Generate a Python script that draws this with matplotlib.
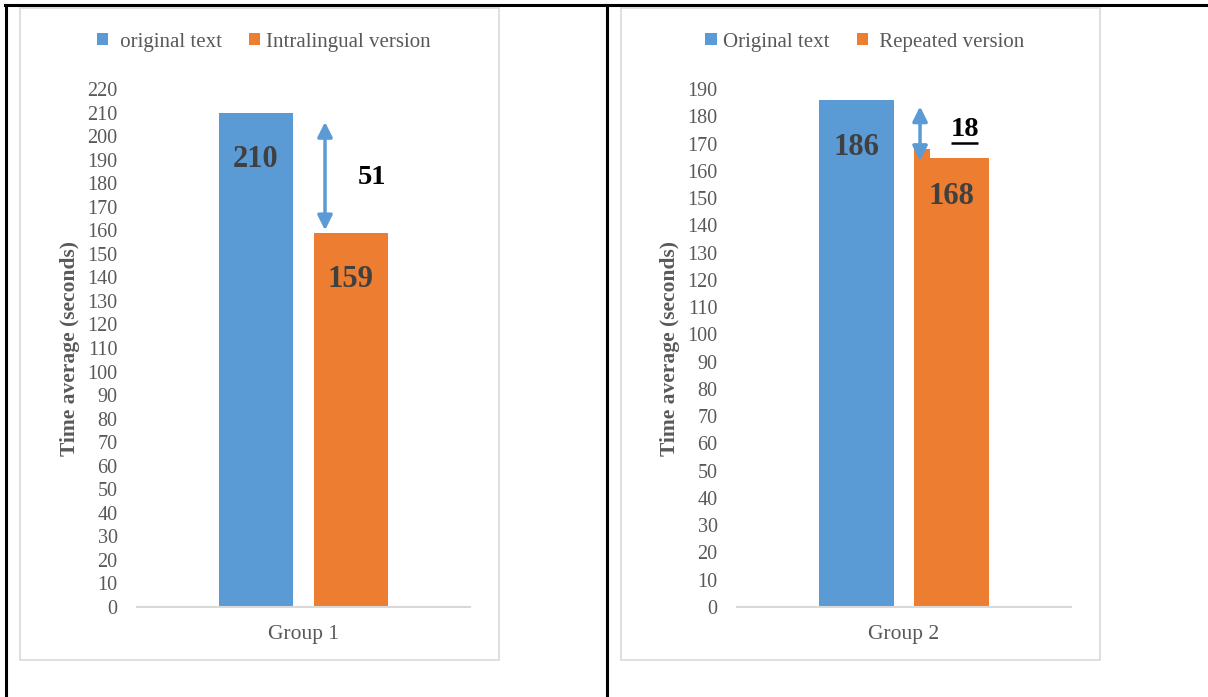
import matplotlib
matplotlib.use("Agg")
import matplotlib.pyplot as plt
from matplotlib.patches import Rectangle
from matplotlib.lines import Line2D

plt.rcParams['font.family'] = ['Liberation Serif', 'DejaVu Serif']

# ---- data ----
groups_1 = ["Group 1"]
series_1 = [" original text", "Intralingual version"]
values_1 = [210, 159]
diff_1 = 51

groups_2 = ["Group 2"]
series_2 = ["Original text", " Repeated version"]
values_2 = [186, 168]
diff_2 = 18

ymax_1, ymax_2 = 220, 190
ylabel = "Time average (seconds)"

BLUE = "#5B9BD5"
ORANGE = "#ED7D31"
GRAY = "#595959"
DARK = "#404040"
GRID = "#D9D9D9"

W, H = 1208, 697
fig = plt.figure(figsize=(W / 100, H / 100), dpi=100)


def px(x0, y0, x1, y1):
    """pixel box (top-left origin) -> figure fraction rect"""
    return [x0 / W, 1 - y1 / H, (x1 - x0) / W, (y1 - y0) / H]


# table frame lines
for xs, ys in [((5, W), (5, 5)), ((6, 6), (5, H)), ((607, 607), (5, H))]:
    fig.add_artist(Line2D([x / W for x in xs], [1 - y / H for y in ys],
                          color="black", lw=2.2, transform=fig.transFigure))

# chart area borders
for x0, x1 in [(20, 499), (621, 1100)]:
    fig.add_artist(Rectangle((x0 / W, 1 - 660 / H), (x1 - x0) / W, (660 - 8) / H,
                             transform=fig.transFigure, fill=False,
                             edgecolor=GRID, lw=1.2))

offset = 0.1426
bw = 0.225


def make_panel(rect, groups, series, values, ymax, legend_center, ylab_x):
    ax = fig.add_axes(rect)
    xs = [-offset, offset]
    colors = [BLUE, ORANGE]
    for x, v, c, s in zip(xs, values, colors, series):
        ax.bar(x, v, width=bw, color=c, label=s, zorder=2)
    ax.set_xlim(-0.5, 0.5)
    ax.set_ylim(0, ymax)
    ax.set_yticks(range(0, ymax + 1, 10))
    ax.set_xticks([0])
    ax.set_xticklabels(groups)
    ax.tick_params(axis="y", length=0, pad=14, labelsize=14.5, labelcolor=GRAY)
    ax.tick_params(axis="x", length=0, pad=13, labelsize=15.5, labelcolor=GRAY)
    for sp in ["top", "right", "left"]:
        ax.spines[sp].set_visible(False)
    ax.spines["bottom"].set_color(GRID)
    ax.spines["bottom"].set_linewidth(1.5)
    ax.set_facecolor("none")
    ax.set_ylabel(ylabel, fontsize=15.5, fontweight="bold", color=GRAY)
    ax.yaxis.set_label_coords(ylab_x, 0.5)
    for x, v in zip(xs, values):
        ax.annotate(f"{v}", (x, v), xytext=(0, -34), textcoords="offset points",
                    ha="center", va="center", fontsize=22, fontweight="bold",
                    color=DARK, zorder=5)
    ax.legend(loc="center", bbox_to_anchor=legend_center,
              bbox_transform=fig.transFigure, ncol=2, frameon=False,
              fontsize=15, handlelength=0.55, handleheight=0.55,
              handletextpad=0.3, columnspacing=1.3, labelcolor=GRAY)
    return ax


ax1 = make_panel(px(137, 89, 470, 607), groups_1, series_1, values_1, ymax_1,
                 (264 / W, 1 - 42 / H), -0.172)
ax2 = make_panel(px(737, 89, 1071, 607), groups_2, series_2, values_2, ymax_2,
                 (865 / W, 1 - 42 / H), -0.17)

# difference arrow, panel 1
ax1.annotate("", xy=(0.0646, values_1[1] + 1), xytext=(0.0646, values_1[0] - 4),
             arrowprops=dict(arrowstyle="<|-|>", color=BLUE, lw=2.5,
                             mutation_scale=22, shrinkA=0, shrinkB=0), zorder=4)
ax1.text(0.2064, 182.5, f"{diff_1}", ha="center", va="center", fontsize=20.5,
         fontweight="bold", color="black")

# difference label box, panel 2 (white box over the bar top)
ax2.add_patch(Rectangle((0.078, 164.6), 0.25, 22, facecolor="white",
                        edgecolor="none", zorder=3))
ax2.annotate("", xy=(0.048, 163.6), xytext=(0.048, 183.6),
             arrowprops=dict(arrowstyle="<|-|>", color=BLUE, lw=2.5,
                             mutation_scale=22, shrinkA=0, shrinkB=0), zorder=4)
ax2.text(0.1826, 175, f"{diff_2}", ha="center", va="center", fontsize=20.5,
         fontweight="bold", color="black", zorder=5)
ax2.plot([0.142, 0.223], [170.2, 170.2], color="black", lw=1.8, zorder=5,
         solid_capstyle="butt")

fig.savefig("out.png", dpi=100, facecolor="white")
